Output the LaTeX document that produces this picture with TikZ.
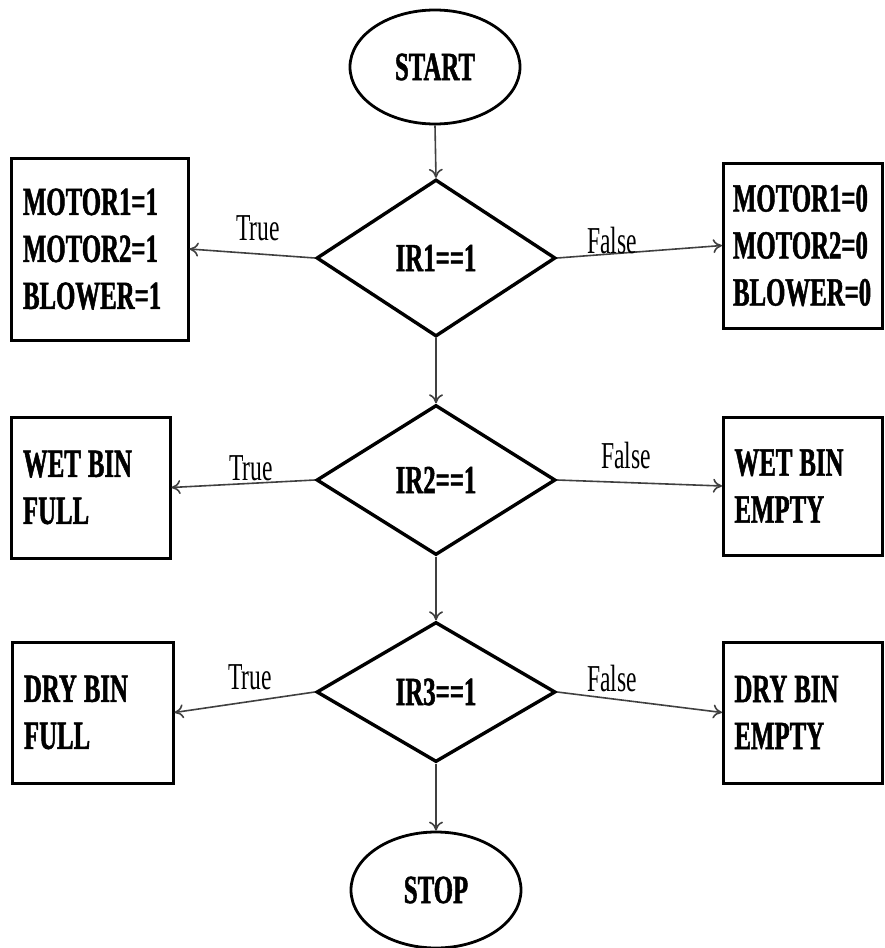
\documentclass[tikz,border=0pt]{standalone}
\usepackage{fontspec}
\usetikzlibrary{shapes.geometric,arrows.meta}
\newfontfamily\condfont{Liberation Serif}[FakeStretch=0.62]
\newfontfamily\condbold{Liberation Serif Bold}[FakeStretch=0.62, FakeBold=1.2]
\newcommand{\wsp}{\hspace{7pt}}
\tikzset{
  bigtxt/.style={font=\condbold\fontsize{40}{47}\selectfont},
  terminal/.style={ellipse, draw, line width=2.8pt, bigtxt, inner sep=0pt},
  decision/.style={diamond, draw, line width=3.4pt, bigtxt, inner sep=0pt, aspect=1.55},
  outbox/.style={rectangle, draw, line width=3pt, bigtxt, inner xsep=12pt, inner ysep=0pt, align=left},
  flow/.style={draw=black!75, line width=1.6pt, -{To[length=9pt,width=14pt]}},
  lbl/.style={font=\condfont\fontsize{38}{40}\selectfont, inner sep=0pt}
}
\begin{document}
\begin{tikzpicture}[x=1pt,y=-1pt]
\useasboundingbox (0,0) rectangle (885,948);
% terminals
\node[terminal, minimum width=170pt, minimum height=114pt] (start) at (435,67) {START};
\node[terminal, minimum width=170pt, minimum height=116pt] (stop) at (436,890) {STOP};
% decisions
\node[decision, minimum width=239pt, minimum height=157pt] (d1) at (436,258) {IR1==1};
\node[decision, minimum width=239pt, minimum height=150pt] (d2) at (436,480) {IR2==1};
\node[decision, minimum width=239pt, minimum height=140pt] (d3) at (436,692) {IR3==1};
% boxes
\node[outbox, minimum width=177pt, minimum height=182pt, text width=153pt] (l1) at (99.5,249) {MOTOR1=1\\MOTOR2=1\\BLOWER=1};
\node[outbox, minimum width=159pt, minimum height=165pt, text width=140pt, inner xsep=9pt] (r1) at (803,245.5) {MOTOR1=0\\MOTOR2=0\\BLOWER=0};
\node[outbox, minimum width=159pt, minimum height=141pt, text width=135pt] (l2) at (90.5,487.5) {WET\wsp BIN\\FULL};
\node[outbox, minimum width=159pt, minimum height=138pt, text width=137pt, inner xsep=11pt] (r2) at (803,486) {WET\wsp BIN\\EMPTY};
\node[outbox, minimum width=161pt, minimum height=141pt, text width=137pt] (l3) at (92.5,712.5) {DRY\wsp BIN\\FULL};
\node[outbox, minimum width=159pt, minimum height=141pt, text width=137pt, inner xsep=11pt] (r3) at (803,712.5) {DRY\wsp BIN\\EMPTY};
% connectors
\draw[flow] (start.south) -- (d1.north);
\draw[flow] (d1.south) -- (d2.north);
\draw[flow] (d2.south) -- (d3.north);
\draw[flow] (d3.south) -- (stop.north);
\draw[flow] (d1.west) -- (l1.east);
\draw[flow] (d1.east) -- (r1.west);
\draw[flow] (d2.west) -- (l2.east);
\draw[flow] (d2.east) -- (r2.west);
\draw[flow] (d3.west) -- (l3.east);
\draw[flow] (d3.east) -- (r3.west);
% labels
\node[lbl] (t1) at (258,228) {True};
\node[lbl] (f1) at (612,240) {False};
\node[lbl] (t2) at (251,468) {True};
\node[lbl] (f2) at (626,455) {False};
\node[lbl] (t3) at (250,677) {True};
\node[lbl] (f3) at (612,678) {False};
\end{tikzpicture}
\end{document}
